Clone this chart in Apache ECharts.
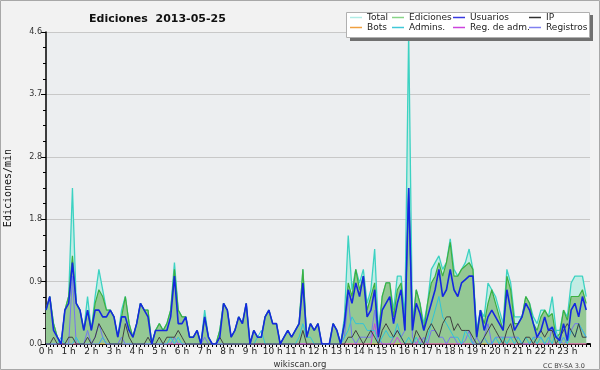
<!DOCTYPE html>
<html><head><meta charset="utf-8">
<script src="https://cdn.jsdelivr.net/npm/echarts@6/dist/echarts.min.js"></script>
<style>html,body{margin:0;padding:0;background:#f2f2f2}#c{width:600px;height:370px}</style>
</head><body><div id="c"></div>
<script>
// 10-minute slots: 144 per day, index i = 10*i minutes after 0 h
const hourTicks = ['0 h','1 h','2 h','3 h','4 h','5 h','6 h','7 h','8 h','9 h','10 h','11 h','12 h','13 h','14 h','15 h','16 h','17 h','18 h','19 h','20 h','21 h','22 h','23 h'];
const yTicks = [0, 0.92, 1.84, 2.76, 3.68, 4.6];

const total = [
0.5,0.7,0.3,0.1,0,0.5, 0.7,2.3,0.6,0.5,0.2,0.7, 0.2,0.7,1.1,0.8,0.5,0.5, 0.4,0.1,0.5,0.7,0.3,0.1,
0.3,0.6,0.5,0.5,0,0.2, 0.3,0.2,0.3,0.5,1.2,0.5, 0.4,0.4,0.1,0.1,0.2,0, 0.5,0.1,0,0,0.2,0.6,
0.5,0.1,0.2,0.4,0.3,0.6, 0,0.2,0.1,0.1,0.4,0.5, 0.3,0.3,0,0.1,0.2,0.1, 0.2,0.3,1.1,0.1,0.3,0.2,
0.3,0,0,0,0.3,0.2, 0,0.4,1.6,0.8,1.1,0.9, 1.1,0.6,0.8,1.4,0.2,0.7, 0.9,0.9,0.5,1.0,1.0,0.4,
4.6,0.3,0.8,0.6,0.3,0.6, 1.1,1.2,1.3,1.1,1.2,1.55, 1.1,1.0,1.1,1.2,1.4,1.1, 0.2,0.5,0.4,0.9,0.8,0.7,
0.5,0.3,1.1,0.9,0.4,0.4, 0.4,0.7,0.6,0.4,0.3,0.5, 0.5,0.4,0.7,0.2,0.2,0.5, 0.4,0.9,1.0,1.0,1.0,0.7];

const ediciones = [
0.5,0.7,0.3,0.1,0,0.5, 0.7,1.3,0.6,0.5,0.2,0.5, 0.2,0.6,0.8,0.7,0.5,0.5, 0.4,0.1,0.4,0.7,0.3,0.1,
0.3,0.6,0.5,0.5,0,0.2, 0.3,0.2,0.3,0.5,1.1,0.5, 0.4,0.4,0.1,0.1,0.2,0, 0.4,0.1,0,0,0.2,0.6,
0.5,0.1,0.2,0.4,0.3,0.6, 0,0.2,0.1,0.1,0.4,0.5, 0.3,0.3,0,0.1,0.2,0.1, 0.2,0.3,1.1,0.1,0.3,0.2,
0.3,0,0,0,0.3,0.2, 0,0.3,0.9,0.7,1.1,0.8, 1.0,0.5,0.7,0.9,0.1,0.7, 0.9,0.9,0.4,0.8,0.9,0.2,
2.3,0.2,0.8,0.6,0.2,0.6, 0.9,1.0,1.2,1.0,1.2,1.5, 1.0,1.0,1.1,1.15,1.2,1.1, 0.1,0.5,0.3,0.6,0.8,0.6,
0.4,0.2,1.0,0.8,0.3,0.3, 0.4,0.7,0.6,0.3,0.2,0.4, 0.5,0.4,0.45,0.1,0.15,0.5, 0.35,0.7,0.7,0.7,0.8,0.6];

const usuarios = [
0.5,0.7,0.2,0.1,0,0.5, 0.6,1.2,0.6,0.5,0.2,0.5, 0.2,0.5,0.5,0.4,0.4,0.5, 0.4,0.1,0.4,0.4,0.2,0.1,
0.3,0.6,0.5,0.4,0,0.2, 0.2,0.2,0.2,0.4,1.0,0.3, 0.3,0.4,0.1,0.1,0.2,0, 0.4,0.1,0,0,0.1,0.6,
0.5,0.1,0.2,0.4,0.3,0.6, 0,0.2,0.1,0.1,0.4,0.5, 0.3,0.3,0,0.1,0.2,0.1, 0.2,0.3,0.9,0.1,0.3,0.2,
0.3,0,0,0,0.3,0.2, 0,0.3,0.8,0.6,0.9,0.7, 1.0,0.4,0.5,0.8,0.1,0.5, 0.6,0.7,0.3,0.6,0.8,0.2,
2.3,0.2,0.6,0.45,0.2,0.4, 0.6,0.8,1.1,0.7,0.8,1.1, 0.8,0.7,0.9,0.95,1.0,1.0, 0.1,0.5,0.2,0.4,0.5,0.4,
0.3,0.2,0.8,0.5,0.2,0.3, 0.4,0.6,0.5,0.3,0.1,0.2, 0.4,0.2,0.25,0.1,0.05,0.3, 0.05,0.5,0.6,0.4,0.7,0.5];

const ip = [
0,0,0.1,0,0,0, 0.1,0.1,0,0,0,0.1, 0,0.1,0.3,0.2,0.1,0, 0,0,0,0.3,0.1,0,
0,0,0,0.1,0,0, 0.1,0,0.1,0.1,0.1,0.2, 0.1,0,0,0,0,0, 0,0,0,0,0.1,0,
0,0,0,0,0,0, 0,0,0,0,0,0, 0,0,0,0,0,0, 0,0,0.2,0,0,0,
0,0,0,0,0,0, 0,0,0.1,0.1,0.2,0.1, 0,0.1,0.2,0.1,0,0.2, 0.3,0.2,0.1,0.2,0.1,0,
0,0,0.2,0.1,0,0.2, 0.3,0.2,0.1,0.3,0.4,0.4, 0.2,0.3,0.2,0.2,0.2,0.1, 0,0,0.1,0.2,0.3,0.2,
0.1,0,0.2,0.3,0.1,0, 0,0.1,0.1,0,0.1,0.2, 0.1,0.2,0.2,0,0.1,0.2, 0.3,0.2,0.1,0.3,0.1,0.1];

const bots = new Array(144).fill(0);

const admins = [
0,0,0,0,0.1,0, 0,0,0.1,0,0,0, 0,0,0,0.1,0,0, 0,0,0,0,0,0,
0,0,0,0,0,0, 0,0,0,0.1,0,0.1, 0,0,0,0,0,0, 0,0,0,0,0,0,
0,0,0,0,0,0, 0,0,0.1,0.2,0,0, 0,0,0,0,0,0, 0,0.1,0.3,0.1,0.1,0,
0,0,0,0,0,0, 0,0.1,0.2,0.4,0.3,0.3, 0.3,0.2,0.2,0.2,0,0.1, 0.2,0.1,0.1,0.3,0.1,0,
0.1,0,0.1,0,0,0.1, 0.3,0.5,0.7,0.4,0.3,0.2, 0.1,0.1,0,0.2,0.1,0, 0,0,0.1,0,0,0.1,
0,0.1,0,0.1,0,0.1, 0,0.1,0,0.1,0,0.1, 0,0.1,0,0.2,0,0.1, 0,0.2,0.1,0.3,0.2,0.1];

const regAdm = [
0,0,0,0,0,0, 0,0,0,0,0,0, 0,0,0,0.1,0,0, 0,0,0,0,0,0,
0,0,0,0,0,0, 0,0,0,0,0,0, 0,0,0,0,0,0, 0,0,0,0,0,0,
0,0,0,0,0,0, 0,0,0,0,0,0, 0,0,0,0,0,0, 0,0,0,0,0,0,
0,0,0,0,0,0, 0,0,0,0,0,0, 0,0,0,0.3,0,0, 0,0,0,0.1,0,0,
0,0,0,0.1,0,0, 0,0,0,0,0,0, 0,0,0,0,0,0, 0,0,0.1,0,0,0,
0,0,0,0,0,0, 0,0,0,0,0,0, 0,0,0,0,0,0.1, 0,0,0,0,0,0];

const registros = [
0,0,0,0,0,0, 0,1.0,0,0,0,0.2, 0,0.1,0.3,0.1,0,0, 0,0,0.1,0,0,0,
0,0,0,0,0,0, 0,0,0,0,0.1,0, 0,0,0,0,0,0, 0.1,0,0,0,0,0,
0,0,0,0,0,0, 0,0,0,0,0,0, 0,0,0,0,0,0, 0,0,0,0,0,0,
0,0,0,0,0,0, 0,0.1,0.7,0.1,0,0.1, 0.1,0.1,0.1,0.5,0.1,0, 0,0,0.1,0.2,0.1,0.2,
2.3,0.1,0,0,0.1,0, 0.2,0.2,0.1,0.1,0,0.1, 0.1,0,0,0.05,0.2,0, 0.1,0,0.1,0.3,0,0.1,
0.1,0.1,0.1,0.1,0.1,0.1, 0,0,0,0.1,0.1,0.1, 0,0,0.25,0.1,0.05,0, 0.05,0.2,0.3,0.3,0.2,0.1];

const FONT = 'DejaVu Sans';
const pts = arr => arr.map((v, i) => [i, v]);

function lineSeries(name, data, color, width, z, area) {
  const s = {
    name, type: 'line', data: pts(data), symbol: 'none', animation: false,
    lineStyle: { color, width }, itemStyle: { color }, z
  };
  if (area) s.areaStyle = { color: area, opacity: 1 };
  return s;
}

const chart = echarts.init(document.getElementById('c'), null, { renderer: 'canvas' });
const legendBase = {
  orient: 'vertical', top: 13, itemGap: 1, itemWidth: 12, itemHeight: 1.5, icon: 'rect',
  textStyle: { fontFamily: FONT, fontSize: 9, color: '#222', padding: [0, 0, 0, 0] },
  selectedMode: false, padding: 0, z: 10
};
chart.setOption({
  backgroundColor: '#f2f2f2',
  animation: false,
  title: [
    { text: 'Ediciones  2013-05-25', left: 84, top: 9,
      textStyle: { fontFamily: FONT, fontSize: 11, fontWeight: 'bold', color: '#111' } },
    { text: 'wikiscan.org', left: 'center', top: 355,
      textStyle: { fontFamily: FONT, fontSize: 8.5, fontWeight: 'normal', color: '#333' } },
    { text: 'CC BY-SA 3.0', right: 10, top: 358,
      textStyle: { fontFamily: FONT, fontSize: 6.5, fontWeight: 'normal', color: '#444' } }
  ],
  graphic: [
    { type: 'rect', shape: { x: 0.5, y: 0.5, width: 599, height: 369 }, style: { fill: 'none', stroke: '#a8a8a8', lineWidth: 1 }, z: 100, silent: true },
    { type: 'rect', shape: { x: 350, y: 15, width: 243, height: 26 }, style: { fill: '#707070' }, z: 5, silent: true },
    { type: 'rect', shape: { x: 346.5, y: 12.5, width: 243, height: 25 }, style: { fill: '#ffffff', stroke: '#b0b0b0', lineWidth: 1 }, z: 6, silent: true }
  ],
  legend: [
    Object.assign({}, legendBase, { left: 350, data: [{ name: 'Total', itemStyle: { color: '#b0ece6' } }, { name: 'Bots', itemStyle: { color: '#f0a040' } }] }),
    Object.assign({}, legendBase, { left: 392, data: [{ name: 'Ediciones', itemStyle: { color: '#88d488' } }, { name: 'Admins.', itemStyle: { color: '#40c8d8' } }] }),
    Object.assign({}, legendBase, { left: 453, data: [{ name: 'Usuarios', itemStyle: { color: '#3838e0' } }, { name: 'Reg. de adm.', itemStyle: { color: '#cc44dd' } }] }),
    Object.assign({}, legendBase, { left: 529, data: [{ name: 'IP', itemStyle: { color: '#303030' } }, { name: 'Registros', itemStyle: { color: '#8080f0' } }] })
  ],
  grid: { left: 46, right: 10, top: 32, bottom: 26, show: true, backgroundColor: '#eceef0', borderWidth: 0, outerBoundsMode: 'none', containLabel: false },
  xAxis: {
    type: 'value', min: 0, max: 144, interval: 6,
    axisLine: { lineStyle: { color: '#000', width: 2 } },
    axisTick: { length: 3, lineStyle: { color: '#000' } },
    minorTick: { show: true, splitNumber: 6, length: 3, lineStyle: { color: '#000' } },
    splitLine: { show: false },
    axisLabel: { fontFamily: FONT, fontSize: 9, color: '#222', margin: 3,
      formatter: v => (v < 144 ? hourTicks[v / 6] : '') }
  },
  yAxis: {
    type: 'value', min: 0, max: 4.6, interval: 0.92,
    name: 'Ediciones/min', nameLocation: 'middle', nameGap: 33, nameRotate: 90,
    nameTextStyle: { fontFamily: 'DejaVu Sans Mono', fontSize: 10, color: '#111' },
    axisLine: { show: true, lineStyle: { color: '#000', width: 1.5 } },
    axisTick: { show: true, length: 5, lineStyle: { color: '#000' } },
    minorTick: { show: true, splitNumber: 4, length: 3, lineStyle: { color: '#000' } },
    splitLine: { show: true, lineStyle: { color: '#c8c8c8', width: 1 } },
    axisLabel: { fontFamily: FONT, fontSize: 8, color: '#333', margin: 4,
      formatter: v => { const k = yTicks.findIndex(t => Math.abs(t - v) < 1e-6); return (k >= 0 ? yTicks[k] : v).toFixed(1); } }
  },
  series: [
    lineSeries('Total', total, '#3cd2c2', 1.3, 1, '#c2ece4'),
    lineSeries('Ediciones', ediciones, '#3cb040', 1.2, 2, '#94c894'),
    lineSeries('Bots', bots, '#f0a040', 1, 3),
    lineSeries('Registros', registros, '#7474f0', 1, 4),
    lineSeries('Reg. de adm.', regAdm, '#cc44dd', 1, 5),
    lineSeries('Admins.', admins, '#30c4d8', 1, 6),
    lineSeries('IP', ip, '#404040', 1, 7),
    lineSeries('Usuarios', usuarios, '#1428e0', 1.6, 8)
  ]
});
</script></body></html>
